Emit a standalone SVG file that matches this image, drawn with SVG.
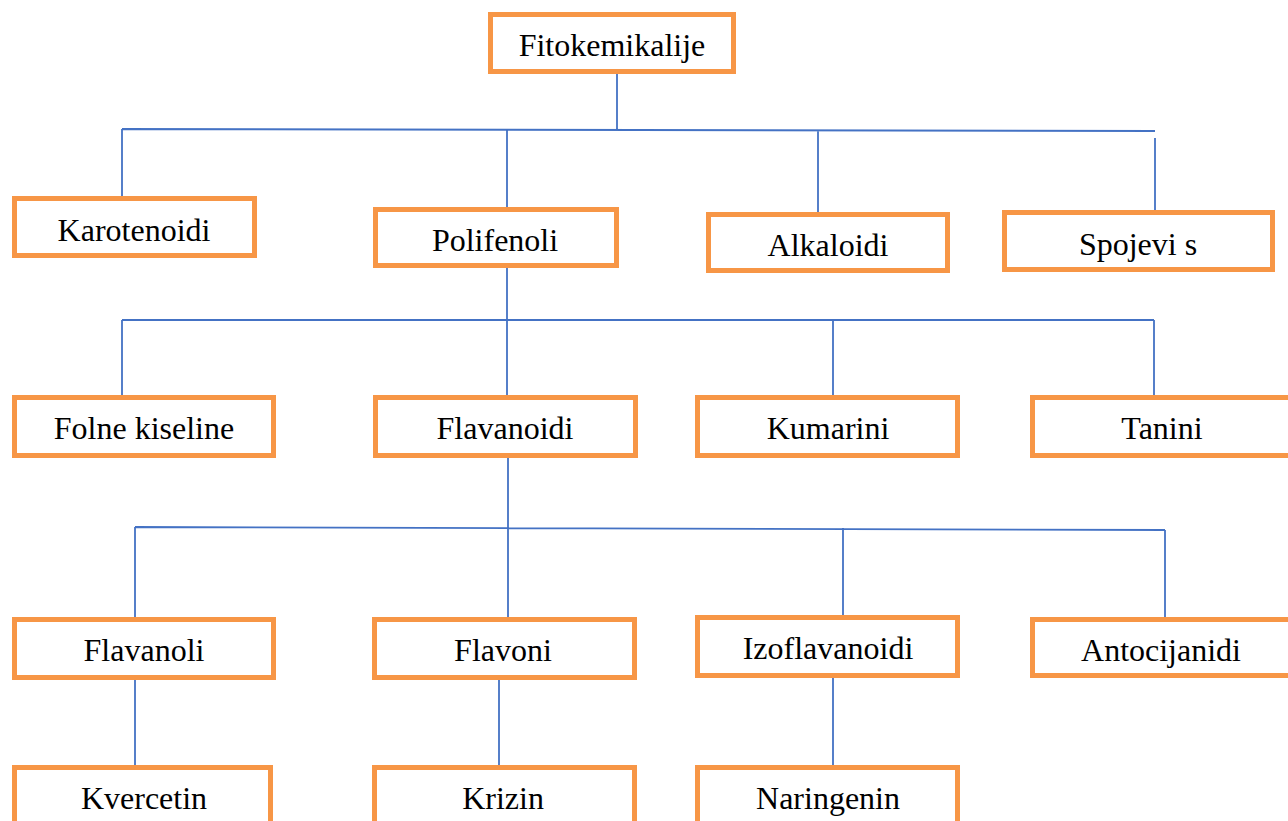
<svg xmlns="http://www.w3.org/2000/svg" width="1288" height="821" viewBox="0 0 1288 821">
<style>
.box{fill:#fff;stroke:#F79646;stroke-width:5}
.lbl{font-family:'Liberation Serif', 'Times New Roman', serif;font-size:32px;fill:#000;text-anchor:middle}
.c{stroke:#4472C4;stroke-width:1.8;fill:none}
</style>
<rect width="1288" height="821" fill="#fff"/>
<g id="connectors">
<path class="c" d="M617,74V130M122,129L1155,131M122,129V196M507,130V207M818,131V212M1155,138V212"/>
<path class="c" d="M507,268V320M122,320H1154M122,320V395M507,320V395M833,320V395M1154,320V395"/>
<path class="c" d="M508,458V528M135,527L1165,530M135,527V617M508,528V617M843,528V615M1165,530V617"/>
<path class="c" d="M135,680V765M499,680V765M833,678V765"/>
</g>
<g id="n-fitokemikalije"><rect class="box" x="490.5" y="14.5" width="243" height="57"/><text class="lbl" x="612" y="56">Fitokemikalije</text></g>
<g id="n-karotenoidi"><rect class="box" x="14.5" y="198.5" width="240" height="57"/><text class="lbl" x="134" y="241">Karotenoidi</text></g>
<g id="n-polifenoli"><rect class="box" x="375.5" y="209.5" width="241" height="56"/><text class="lbl" x="495" y="251">Polifenoli</text></g>
<g id="n-alkaloidi"><rect class="box" x="708.5" y="214.5" width="239" height="56"/><text class="lbl" x="828" y="256">Alkaloidi</text></g>
<g id="n-spojevi"><rect class="box" x="1004.5" y="212.5" width="268" height="57"/><text class="lbl" x="1138" y="255">Spojevi s</text></g>
<g id="n-folne"><rect class="box" x="14.5" y="397.5" width="259" height="58"/><text class="lbl" x="144" y="439">Folne kiseline</text></g>
<g id="n-flavanoidi"><rect class="box" x="375.5" y="397.5" width="260" height="58"/><text class="lbl" x="505" y="439">Flavanoidi</text></g>
<g id="n-kumarini"><rect class="box" x="697.5" y="397.5" width="260" height="58"/><text class="lbl" x="828" y="439">Kumarini</text></g>
<g id="n-tanini"><rect class="box" x="1032.5" y="397.5" width="258" height="58"/><text class="lbl" x="1162" y="439">Tanini</text></g>
<g id="n-flavanoli"><rect class="box" x="14.5" y="619.5" width="259" height="58"/><text class="lbl" x="144" y="661">Flavanoli</text></g>
<g id="n-flavoni"><rect class="box" x="374.5" y="619.5" width="260" height="58"/><text class="lbl" x="503" y="661">Flavoni</text></g>
<g id="n-izoflavanoidi"><rect class="box" x="697.5" y="617.5" width="260" height="58"/><text class="lbl" x="828" y="659">Izoflavanoidi</text></g>
<g id="n-antocijanidi"><rect class="box" x="1032.5" y="619.5" width="258" height="56"/><text class="lbl" x="1161" y="661">Antocijanidi</text></g>
<g id="n-kvercetin"><rect class="box" x="14.5" y="767.5" width="256" height="70"/><text class="lbl" x="144" y="809">Kvercetin</text></g>
<g id="n-krizin"><rect class="box" x="374.5" y="767.5" width="260" height="70"/><text class="lbl" x="503" y="809">Krizin</text></g>
<g id="n-naringenin"><rect class="box" x="697.5" y="767.5" width="260" height="70"/><text class="lbl" x="828" y="809">Naringenin</text></g>
</svg>
